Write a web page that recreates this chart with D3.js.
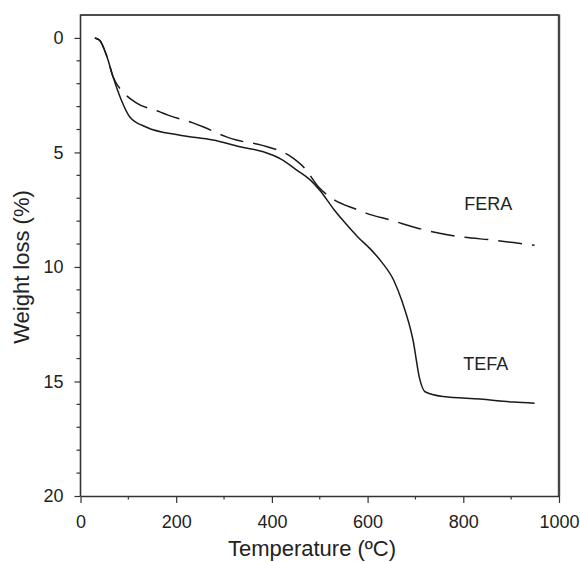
<!DOCTYPE html>
<html>
<head>
<meta charset="utf-8">
<script src="https://cdn.jsdelivr.net/npm/d3@7"></script>
<style>
  body { margin: 0; background: #fff; }
  text { font-family: Arial, "Liberation Sans", sans-serif; fill: #222; }
</style>
</head>
<body>
<svg id="chart" width="580" height="562"></svg>
<script>
// TEFA (solid)
const tefaTemp = [30, 40, 55, 68, 85, 103, 138, 208, 277, 333, 382, 420, 452, 480, 500, 530, 556, 580, 605, 630, 655, 672, 695, 709, 720, 758, 835, 905, 949];
const tefaLoss = [0, 0.1, 0.8, 1.7, 2.7, 3.45, 3.9, 4.25, 4.46, 4.75, 4.97, 5.3, 5.77, 6.2, 6.65, 7.5, 8.15, 8.7, 9.2, 9.8, 10.6, 11.5, 13.2, 14.9, 15.45, 15.66, 15.77, 15.9, 15.95];
// FERA (dashed)
const feraTemp = [30, 40, 55, 68, 89, 114, 166, 183, 235, 256, 305, 326, 378, 445, 469, 497, 525, 577, 598, 647, 720, 793, 863, 933, 949];
const feraLoss = [0, 0.1, 0.8, 1.7, 2.36, 2.8, 3.23, 3.37, 3.71, 3.88, 4.32, 4.46, 4.68, 5.26, 5.7, 6.5, 7.0, 7.49, 7.66, 7.95, 8.39, 8.68, 8.83, 9.01, 9.05];

const xTicks = [0, 200, 400, 600, 800, 1000];
const yTicks = [0, 5, 10, 15, 20];

const margin = { left: 80.5, top: 15, right: 21, bottom: 66 };
const width = 580 - margin.left - margin.right;
const height = 562 - margin.top - margin.bottom;

const svg = d3.select("#chart");
const g = svg.append("g")
  .attr("transform", "translate(" + margin.left + "," + margin.top + ")");

const x = d3.scaleLinear().domain([0, 1000]).range([0, width]);
const y = d3.scaleLinear().domain([-1, 20]).range([0, height]);

// frame: top thin, right thick gray
g.append("line")
  .attr("x1", 0).attr("x2", width).attr("y1", 0).attr("y2", 0)
  .attr("stroke", "#111").attr("stroke-width", 1.3);
g.append("line")
  .attr("x1", width).attr("x2", width).attr("y1", -0.6).attr("y2", height)
  .attr("stroke", "#444").attr("stroke-width", 2.4);

// minor ticks
const xMinor = d3.range(100, 1000, 200);
const yMinor = d3.range(0, 20, 1).filter(d => d % 5 !== 0);

g.selectAll(".xminor")
  .data(xMinor)
  .enter().append("line")
  .attr("x1", d => x(d)).attr("x2", d => x(d))
  .attr("y1", height).attr("y2", height + 3.5)
  .attr("stroke", "#333").attr("stroke-width", 1.2);

g.selectAll(".yminor")
  .data(yMinor)
  .enter().append("line")
  .attr("x1", -4).attr("x2", 0)
  .attr("y1", d => y(d)).attr("y2", d => y(d))
  .attr("stroke", "#333").attr("stroke-width", 1.2);

// axes
const xAxis = g.append("g")
  .attr("transform", "translate(0," + height + ")")
  .call(d3.axisBottom(x).tickValues(xTicks).tickFormat(d3.format("d"))
    .tickSize(7).tickPadding(12).tickSizeOuter(0));

const yAxis = g.append("g")
  .call(d3.axisLeft(y).tickValues(yTicks).tickFormat(d3.format("d"))
    .tickSize(6).tickPadding(11).tickSizeOuter(0));

[xAxis, yAxis].forEach(a => {
  a.select(".domain").attr("stroke", "#333").attr("stroke-width", 1.6);
  a.selectAll(".tick line").attr("stroke", "#333").attr("stroke-width", 1.2);
  a.selectAll(".tick text")
    .style("font-family", "Arial, 'Liberation Sans', sans-serif")
    .style("font-size", "18px")
    .attr("fill", "#222");
});
yAxis.select(".domain").attr("d", "M0," + (-0.6) + "V" + height);

// lines
const lineGen = d3.line()
  .x(d => x(d[0]))
  .y(d => y(d[1]))
  .curve(d3.curveMonotoneX);

g.append("path")
  .datum(d3.zip(tefaTemp, tefaLoss))
  .attr("d", lineGen)
  .attr("fill", "none")
  .attr("stroke", "#1a1a1a")
  .attr("stroke-width", 1.5);

g.append("path")
  .datum(d3.zip(feraTemp, feraLoss))
  .attr("d", lineGen)
  .attr("fill", "none")
  .attr("stroke", "#1a1a1a")
  .attr("stroke-width", 1.5)
  .attr("stroke-dasharray", "24,10");

// series labels
g.append("text")
  .attr("x", x(802)).attr("y", y(7.5))
  .style("font-size", "18px")
  .text("FERA");

g.append("text")
  .attr("x", x(800)).attr("y", y(14.5))
  .style("font-size", "18px")
  .text("TEFA");

// axis titles
svg.append("text")
  .attr("x", 312).attr("y", 556)
  .attr("text-anchor", "middle")
  .style("font-size", "22px")
  .text("Temperature (ºC)");

svg.append("text")
  .attr("transform", "translate(29,267) rotate(-90)")
  .attr("text-anchor", "middle")
  .style("font-size", "22px")
  .text("Weight loss (%)");
</script>
</body>
</html>
